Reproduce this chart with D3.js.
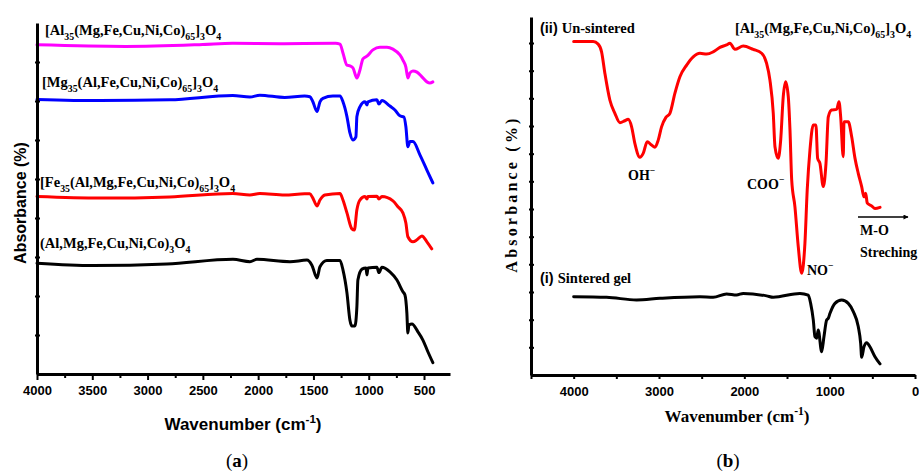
<!DOCTYPE html>
<html>
<head>
<meta charset="utf-8">
<script src="https://cdn.jsdelivr.net/npm/d3@7"></script>
<style>
  body { margin: 0; background: #fff; }
  svg { display: block; }
</style>
</head>
<body>
<svg id="chart" width="919" height="475"></svg>
<script>
// ---- panel (a) spectra: wavenumber (cm-1) and absorbance (offset units)
var alWn = [4000, 3200, 2500, 2230, 1800, 1300, 1260, 1233, 1197, 1170, 1143, 1107, 1080, 1052, 1016, 962, 899, 835, 781, 718, 691, 664, 646, 627, 600, 564, 519, 474, 447, 420];
var alAbs = [8.44, 8.40, 8.45, 8.48, 8.47, 8.48, 8.46, 8.23, 7.92, 7.90, 7.85, 7.59, 7.79, 8.08, 8.15, 8.31, 8.38, 8.38, 8.33, 8.18, 8.05, 7.87, 7.59, 7.72, 7.77, 7.74, 7.62, 7.49, 7.46, 7.49];

var mgWn = [4000, 3430, 2800, 2230, 2075, 1985, 1760, 1580, 1532, 1505, 1468, 1441, 1414, 1324, 1260, 1233, 1197, 1170, 1143, 1116, 1107, 1080, 1034, 1016, 1007, 926, 908, 881, 808, 763, 718, 682, 664, 646, 627, 600, 537, 474, 420];
var mgAbs = [7.04, 7.01, 7.03, 7.14, 7.10, 7.15, 7.09, 7.13, 7.11, 6.98, 6.73, 6.98, 7.07, 7.13, 7.13, 6.98, 6.60, 6.18, 6.00, 6.08, 6.60, 6.85, 6.98, 6.90, 6.98, 7.03, 6.92, 7.01, 6.87, 6.77, 6.62, 6.59, 6.34, 5.83, 5.96, 5.96, 5.62, 5.23, 4.90];

var feWn = [4000, 3430, 2800, 2230, 2075, 1985, 1760, 1580, 1532, 1505, 1468, 1441, 1397, 1260, 1233, 1197, 1152, 1130, 1107, 1080, 1034, 1016, 1007, 926, 908, 881, 781, 736, 691, 664, 646, 600, 564, 519, 474, 430];
var feAbs = [4.55, 4.51, 4.54, 4.63, 4.59, 4.63, 4.59, 4.62, 4.62, 4.51, 4.31, 4.46, 4.59, 4.63, 4.46, 4.13, 3.72, 3.69, 4.21, 4.46, 4.55, 4.49, 4.55, 4.56, 4.49, 4.55, 4.44, 4.29, 4.13, 3.87, 3.52, 3.39, 3.44, 3.54, 3.39, 3.21];

var heaWn = [4000, 3494, 2825, 2228, 2074, 2011, 1712, 1559, 1514, 1468, 1441, 1378, 1260, 1233, 1197, 1170, 1152, 1125, 1107, 1098, 1061, 1025, 1016, 1007, 926, 908, 881, 808, 745, 691, 673, 655, 646, 636, 609, 555, 510, 465, 420];
var heaAbs = [2.84, 2.78, 2.82, 2.94, 2.88, 2.94, 2.88, 2.92, 2.79, 2.46, 2.75, 2.91, 2.91, 2.67, 2.08, 1.38, 1.23, 1.23, 1.73, 2.41, 2.69, 2.72, 2.54, 2.72, 2.74, 2.60, 2.74, 2.62, 2.41, 2.11, 2.03, 1.56, 1.05, 1.26, 1.28, 1.08, 0.87, 0.57, 0.29];

// ---- panel (b) spectra
var unsinWn = [4000, 3771, 3713, 3673, 3634, 3576, 3517, 3458, 3400, 3361, 3321, 3283, 3224, 3185, 3138, 3087, 3048, 3009, 2970, 2919, 2872, 2814, 2755, 2676, 2599, 2520, 2442, 2365, 2286, 2208, 2169, 2110, 2013, 1896, 1797, 1739, 1700, 1661, 1641, 1603, 1574, 1544, 1516, 1485, 1465, 1445, 1407, 1368, 1328, 1290, 1263, 1231, 1192, 1161, 1141, 1114, 1075, 1043, 1016, 977, 918, 891, 871, 841, 832, 782, 742, 703, 665, 625, 598, 578, 559, 508, 469, 410];
var unsinAbs = [12.05, 12.05, 11.96, 11.68, 10.90, 9.94, 9.46, 9.12, 9.19, 9.24, 8.97, 8.37, 7.87, 8.01, 8.43, 8.31, 8.23, 8.49, 8.97, 9.31, 9.46, 10.18, 10.78, 11.20, 11.50, 11.63, 11.60, 11.68, 11.84, 11.93, 11.99, 11.77, 11.89, 11.77, 11.63, 11.26, 10.66, 9.46, 8.25, 7.83, 8.49, 10.06, 10.60, 10.06, 8.85, 7.05, 6.08, 4.64, 3.68, 4.76, 6.69, 8.13, 9.04, 9.04, 7.83, 7.65, 6.81, 7.65, 9.33, 9.58, 9.60, 9.88, 9.33, 7.89, 9.15, 9.15, 8.61, 7.83, 7.29, 6.81, 6.44, 6.57, 6.21, 6.11, 6.02, 6.06];

var sinWn = [4000, 3614, 3263, 2989, 2521, 2365, 2208, 2091, 2013, 1739, 1661, 1348, 1251, 1223, 1192, 1172, 1152, 1134, 1094, 1067, 1035, 1016, 996, 938, 859, 782, 723, 665, 637, 625, 598, 566, 528, 469, 410];
var sinAbs = [2.83, 2.81, 2.71, 2.77, 2.83, 2.81, 2.93, 2.89, 2.95, 2.86, 2.81, 2.95, 2.89, 2.59, 1.99, 1.38, 1.33, 1.63, 0.84, 1.38, 1.99, 2.05, 2.23, 2.59, 2.71, 2.59, 2.29, 1.75, 1.15, 0.64, 1.02, 1.17, 1.02, 0.66, 0.40];

// tick values
var aMajor = [4000, 3500, 3000, 2500, 2000, 1500, 1000, 500];
var aMinor = [3750, 3250, 2750, 2250, 1750, 1250, 750];
var bMajor = [4000, 3000, 2000, 1000, 0];
var bMinor = [4500, 3500, 2500, 1500, 500];
var aYTicks = [1, 2, 3, 4, 5, 6, 7, 8];
var bYTicks = [1, 2, 3, 4, 5, 6, 7, 8, 9, 10, 11, 12];

// labels: [text, "sub"/"sup"/""]
var alLabel = [["[Al"], ["35", "sub"], ["(Mg,Fe,Cu,Ni,Co)"], ["65", "sub"], ["]"], ["3", "sub"], ["O"], ["4", "sub"]];
var mgLabel = [["[Mg"], ["35", "sub"], ["(Al,Fe,Cu,Ni,Co)"], ["65", "sub"], ["]"], ["3", "sub"], ["O"], ["4", "sub"]];
var feLabel = [["[Fe"], ["35", "sub"], ["(Al,Mg,Fe,Cu,Ni,Co)"], ["65", "sub"], ["]"], ["3", "sub"], ["O"], ["4", "sub"]];
var heaLabel = [["(Al,Mg,Fe,Cu,Ni,Co)"], ["3", "sub"], ["O"], ["4", "sub"]];

var SANS = "'Liberation Sans', Arial, sans-serif";
var SERIF = "'Liberation Serif', 'Times New Roman', serif";

var svg = d3.select('#chart');

function pairs(wn, abs) {
  return wn.map(function(w, i) { return [w, abs[i]]; });
}

function rich(sel, x, y, parts, size, family) {
  var t = sel.append('text')
    .attr('x', x).attr('y', y)
    .attr('font-family', family)
    .attr('font-weight', 'bold')
    .attr('font-size', size);
  var off = 0;
  parts.forEach(function(p) {
    var kind = p[1] || '';
    var target = kind === 'sub' ? size * 0.32 : (kind === 'sup' ? -size * 0.42 : 0);
    t.append('tspan')
      .attr('dy', target - off)
      .attr('font-size', kind ? size * 0.68 : size)
      .attr('font-family', p[2] || null)
      .text(p[0]);
    off = target;
  });
  return t;
}

function styleAxis(g, w) {
  g.select('.domain').attr('stroke', '#000').attr('stroke-width', w);
  g.selectAll('.tick line').attr('stroke', '#000').attr('stroke-width', 2);
}

// ================= panel (a) =================
var xa = d3.scaleLinear().domain([4000, 265]).range([37, 450]);
var ya = d3.scaleLinear().domain([0, 9]).range([374, 23]);

var lineA = d3.line()
  .x(function(d) { return xa(d[0]); })
  .y(function(d) { return ya(d[1]); })
  .curve(d3.curveMonotoneX);

var seriesA = [
  { data: pairs(alWn, alAbs), color: '#ff00ff' },
  { data: pairs(mgWn, mgAbs), color: '#0000ff' },
  { data: pairs(feWn, feAbs), color: '#ff0000' },
  { data: pairs(heaWn, heaAbs), color: '#000000' }
];

svg.append('g').selectAll('path')
  .data(seriesA)
  .enter().append('path')
  .attr('d', function(d) { return lineA(d.data); })
  .attr('fill', 'none')
  .attr('stroke', function(d) { return d.color; })
  .attr('stroke-width', 3)
  .attr('stroke-linejoin', 'round')
  .attr('stroke-linecap', 'round');

var gxa = svg.append('g').attr('transform', 'translate(0,374)');
gxa.append('g').call(d3.axisBottom(xa).tickValues(aMinor).tickSize(4).tickSizeOuter(0).tickFormat(''))
  .call(function(g) { g.select('.domain').remove(); g.selectAll('.tick line').attr('stroke-width', 2); });
gxa.append('g').call(d3.axisBottom(xa).tickValues(aMajor).tickSize(6).tickSizeOuter(0).tickPadding(6).tickFormat(d3.format('d')))
  .call(function(g) {
    styleAxis(g, 3);
    g.selectAll('.tick text').attr('font-family', SANS).attr('font-weight', 'bold').attr('font-size', 13).attr('fill', '#000');
  });

var gya = svg.append('g').attr('transform', 'translate(37,0)');
gya.append('g').call(d3.axisLeft(ya).tickValues(aYTicks).tickSize(2).tickSizeOuter(0).tickFormat(''))
  .call(function(g) { styleAxis(g, 3); });
gya.append('g').call(d3.axisRight(ya).tickValues(aYTicks).tickSize(3).tickSizeOuter(0).tickFormat(''))
  .call(function(g) { g.select('.domain').remove(); g.selectAll('.tick line').attr('stroke-width', 2); });

svg.append('text')
  .attr('transform', 'translate(26,203) rotate(-90)')
  .attr('text-anchor', 'middle')
  .attr('font-family', SANS).attr('font-weight', 'bold').attr('font-size', 16)
  .text('Absorbance (%)');

var xtA = rich(svg, 243, 430, [["Wavenumber (cm"], ["-1", "sup"], [")"]], 17, SANS);
xtA.attr('text-anchor', 'middle');

rich(svg, 45, 35, alLabel, 14.5, SERIF);
rich(svg, 42, 87, mgLabel, 14.5, SERIF);
rich(svg, 40, 187, feLabel, 14.5, SERIF);
rich(svg, 40, 248, heaLabel, 14.5, SERIF);

svg.append('text').attr('x', 237).attr('y', 467).attr('text-anchor', 'middle')
  .attr('font-family', SERIF).attr('font-size', 19)
  .html('(<tspan font-weight="bold">a</tspan>)');

// ================= panel (b) =================
var xb = d3.scaleLinear().domain([4500, 0]).range([531, 915]);
var yb = d3.scaleLinear().domain([0, 12.94]).range([375, 17]);

var lineB = d3.line()
  .x(function(d) { return xb(d[0]); })
  .y(function(d) { return yb(d[1]); })
  .curve(d3.curveMonotoneX);

var seriesB = [
  { data: pairs(unsinWn, unsinAbs), color: '#ff0000' },
  { data: pairs(sinWn, sinAbs), color: '#000000' }
];

svg.append('g').selectAll('path')
  .data(seriesB)
  .enter().append('path')
  .attr('d', function(d) { return lineB(d.data); })
  .attr('fill', 'none')
  .attr('stroke', function(d) { return d.color; })
  .attr('stroke-width', 3)
  .attr('stroke-linejoin', 'round')
  .attr('stroke-linecap', 'round');

var gxb = svg.append('g').attr('transform', 'translate(0,375)');
gxb.append('g').call(d3.axisBottom(xb).tickValues(bMinor).tickSize(4).tickSizeOuter(0).tickFormat(''))
  .call(function(g) { g.select('.domain').remove(); g.selectAll('.tick line').attr('stroke-width', 2); });
gxb.append('g').call(d3.axisBottom(xb).tickValues(bMajor).tickSize(4).tickSizeOuter(0).tickPadding(8).tickFormat(d3.format('d')))
  .call(function(g) {
    styleAxis(g, 3);
    g.selectAll('.tick text').attr('font-family', SANS).attr('font-weight', 'bold').attr('font-size', 13).attr('fill', '#000');
  });

var gyb = svg.append('g').attr('transform', 'translate(531,0)');
gyb.append('g').call(d3.axisLeft(yb).tickValues(bYTicks).tickSize(2).tickSizeOuter(0).tickFormat(''))
  .call(function(g) { styleAxis(g, 3); });
gyb.append('g').call(d3.axisRight(yb).tickValues(bYTicks).tickSize(3).tickSizeOuter(0).tickFormat(''))
  .call(function(g) { g.select('.domain').remove(); g.selectAll('.tick line').attr('stroke-width', 2); });

svg.append('text')
  .attr('transform', 'translate(517,194) rotate(-90)')
  .attr('text-anchor', 'middle')
  .attr('font-family', SERIF).attr('font-weight', 'bold').attr('font-size', 16)
  .attr('letter-spacing', 3.2)
  .text('Absorbance (%)');

var xtB = rich(svg, 737, 422, [["Wavenumber (cm"], ["-1", "sup"], [")"]], 17, SERIF);
xtB.attr('text-anchor', 'middle');

rich(svg, 540, 33, [["(ii) ", "", SANS], ["Un-sintered"]], 14.5, SERIF);
rich(svg, 735, 33, alLabel, 14.5, SERIF);
rich(svg, 628, 180, [["OH"], ["\u2212", "sup"]], 14, SERIF);
rich(svg, 747, 189, [["COO"], ["\u2212", "sup"]], 14, SERIF);
rich(svg, 807, 275, [["NO"], ["\u2212", "sup"]], 14, SERIF);
rich(svg, 860, 235, [["M-O"]], 14, SERIF);
rich(svg, 860, 257, [["Streching"]], 14, SERIF);
rich(svg, 540, 283, [["(i) ", "", SANS], ["Sintered gel"]], 14.5, SERIF);

// M-O arrow
svg.append('defs').append('marker')
  .attr('id', 'arrowhead').attr('viewBox', '0 0 10 10')
  .attr('refX', 9).attr('refY', 5)
  .attr('markerWidth', 7).attr('markerHeight', 5)
  .attr('markerUnits', 'userSpaceOnUse')
  .attr('orient', 'auto')
  .append('path').attr('d', 'M0,0L10,5L0,10z').attr('fill', '#000');
svg.append('line')
  .attr('x1', 858).attr('y1', 217).attr('x2', 908).attr('y2', 217)
  .attr('stroke', '#000').attr('stroke-width', 1.5)
  .attr('marker-end', 'url(#arrowhead)');

svg.append('text').attr('x', 728).attr('y', 467).attr('text-anchor', 'middle')
  .attr('font-family', SERIF).attr('font-size', 19)
  .html('(<tspan font-weight="bold">b</tspan>)');
</script>
</body>
</html>
